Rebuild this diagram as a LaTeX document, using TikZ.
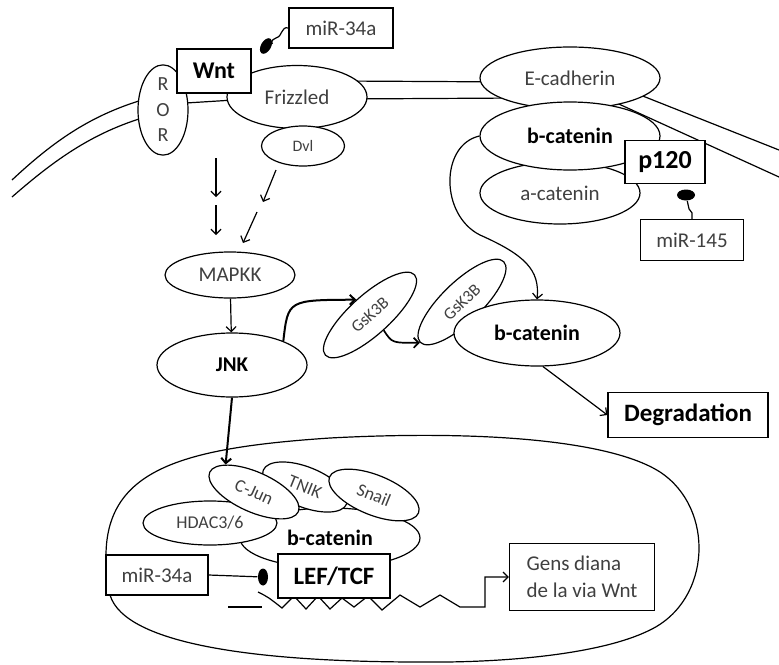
\documentclass[tikz,border=0pt]{standalone}
\usepackage{fontspec}
\setmainfont{Carlito}
\usetikzlibrary{shapes.geometric,arrows.meta}
\newcommand{\fsz}[1]{\fontsize{#1}{#1}\selectfont}
\tikzset{
	prot/.style={draw,ellipse,fill=white,inner sep=0pt,text=black!75,font=\fsz{21}},
	tag/.style={draw,rectangle,fill=white,inner sep=0pt,text=black!75,font=\fsz{21}},
	heavy/.style={text=black,font=\fsz{#1}\bfseries},
	blob/.style={fill=black,ellipse,inner sep=0pt},
}
\begin{document}
\begin{tikzpicture}[x=1pt,y=-1pt,line width=1.2pt,>={Straight Barb[length=5pt,width=10pt]}]
	\useasboundingbox (0,0) rectangle (779,664);
	
	% The membrane
	\draw (12,180) .. controls (60,135) and (100,110) .. (160,95);
	\draw (12,197) .. controls (60,155) and (100,128) .. (160,113);
	\draw (170,104) -- (250,99);
	\draw (340,81) -- (520,82);
	\draw (340,99) -- (520,98);
	\draw (620,87) -- (779,150);
	\draw (610,100) -- (779,177);
	
	% The nucleus
	\draw (106,560) .. controls (104,470) and (180,448) .. (330,438)
	.. controls (480,430) and (610,440) .. (660,472)
	.. controls (715,508) and (712,600) .. (650,630)
	.. controls (600,655) and (500,663) .. (420,662)
	.. controls (260,662) and (125,645) .. (110,595) -- cycle;
	
	% Receptors
	\node[prot,minimum width=50,minimum height=90,font=\fontsize{20}{25.5}\selectfont,align=center] (ror) at (163,110) {R\\O\\R};
	\node[prot,minimum width=140,minimum height=63] (fzd) at (297,97) {Frizzled};
	\node[prot,minimum width=83,minimum height=40,font=\fsz{16}] (dvl) at (303,146) {Dvl};
	\node[tag,minimum width=74,minimum height=44,heavy=24] (wnt) at (214,71) {Wnt};
	\node[tag,minimum width=104,minimum height=40] (mira) at (341,28) {miR-34a};
	\node[blob,minimum width=10,minimum height=17,rotate=-30] (ba) at (266,46) {};
	\draw (mira.west) .. controls (281,26) and (283,36) .. (276,38) .. controls (270,40) and (272,44) .. (ba);
	
	% Adherens junction
	\node[prot,minimum width=180,minimum height=62] (ecad) at (570,78) {E-cadherin};
	\node[prot,minimum width=160,minimum height=62] (acat) at (560,193) {a-catenin};
	\node[prot,minimum width=180,minimum height=68,heavy=22] (bcatj) at (570,136) {b-catenin};
	\node[tag,minimum width=80,minimum height=43,heavy=26] (p120) at (665,162) {p120};
	\node[tag,minimum width=103,minimum height=41] (mirc) at (692,240) {miR-145};
	\node[blob,minimum width=18,minimum height=11] (bb) at (686,195) {};
	\draw (mirc.north) -- ++(0,-6) -- ++(-3,-4) -- (bb);
	
	% Cytoplasm
	\foreach \xa/\ya/\xb/\yb in {216/158/216/197, 216/205/216/235, 276/170/263/202, 257/212/243/243}
		\draw[->] (\xa,\ya) -- (\xb,\yb);
	\node[prot,minimum width=130,minimum height=46] (mapkk) at (230,275) {MAPKK};
	\node[prot,minimum width=150,minimum height=64,heavy=21] (jnk) at (232,365) {JNK};
	\node[prot,minimum width=120,minimum height=40,rotate=42,font=\fsz{17}] (gska) at (370,315) {GsK3B};
	\node[prot,minimum width=116,minimum height=40,rotate=44,font=\fsz{17}] (gskb) at (462,302) {GsK3B};
	\node[prot,minimum width=166,minimum height=66,heavy=22] (bcatc) at (537,333) {b-catenin};
	\node[tag,minimum width=160,minimum height=45,heavy=25] (degr) at (688,415) {Degradation};
	
	\draw[->] (mapkk) -- (jnk);
	\draw[->,line width=2pt] (jnk.25) .. controls (288,300) .. (gska.north);
	\draw[->,line width=1.7pt] (gska.south) .. controls (392,343) .. (gskb.west);
	\draw[->] (bcatj.west) .. controls (440,145) and (440,215) .. (480,235)
		.. controls (525,255) and (540,270) .. (bcatc.north);
	\draw[->] (bcatc.-80) -- (degr.west);
	
	% Inside the nucleus
	\node[prot,minimum width=180,minimum height=60,heavy=22] (bcatn) at (330,538) {b-catenin};
	\node[prot,minimum width=134,minimum height=44,font=\fsz{18}] (hdac) at (210,523) {HDAC3/6};
	\node[prot,minimum width=90,minimum height=40,rotate=-22,font=\fsz{18}] (tnik) at (305,487) {TNIK};
	\node[prot,minimum width=96,minimum height=40,rotate=-22,font=\fsz{18}] (snail) at (374,495) {Snail};
	\node[prot,minimum width=97,minimum height=40,rotate=-24,font=\fsz{18}] (cjun) at (254,492) {C-Jun};
	\draw[->,line width=2pt] (jnk.south) -- (cjun.160);
	
	% DNA
	\draw (228,607) -- (262,607);
	\node[tag,minimum width=145,minimum height=67,align=left,font=\fontsize{21}{27}\selectfont] (gens) at (582,577) {Gens diana\\de la via Wnt};
	\draw[->] (258,592) .. controls (268,597) .. (282,608) -- (294,596) -- (306,609) -- (318,596)
		-- (330,609) -- (342,598) -- (354,607) -- (368,596) -- (382,610) -- (400,595)
		-- (420,607) -- (440,595) -- (460,607) -- (485,607) |- (gens.west);
	\node[tag,minimum width=112,minimum height=44,heavy=25] (lef) at (334,576) {LEF/TCF};
	\node[tag,minimum width=102,minimum height=40] (mirb) at (157,575) {miR-34a};
	\node[blob,minimum width=10,minimum height=17] (bc) at (263,577) {};
	\draw (mirb.east) -- (bc);
	
\end{tikzpicture}
\end{document}
